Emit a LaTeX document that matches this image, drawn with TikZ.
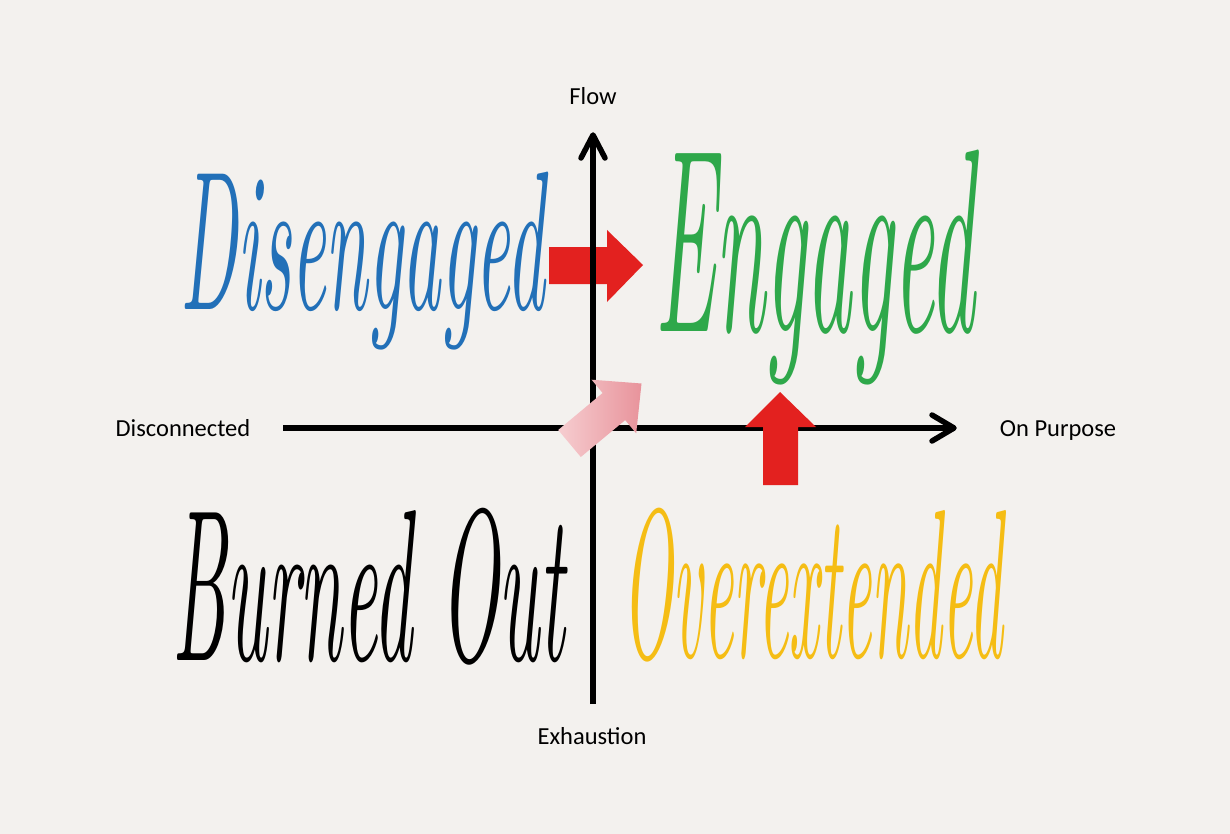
\documentclass[tikz,border=0pt]{standalone}
\usepackage{fontspec}
\setmainfont{Latin Modern Roman}
\newfontfamily\labelfont{Carlito}
\usetikzlibrary{calc}
\definecolor{bgc}{HTML}{F3F1EE}
\definecolor{blueword}{HTML}{2270B8}
\definecolor{greenword}{HTML}{2EA84A}
\definecolor{yellowword}{HTML}{F5BD14}
\definecolor{redarrow}{HTML}{E3211F}
\definecolor{pinklight}{HTML}{F6CDD0}
\definecolor{pinkdark}{HTML}{E8939B}
\tikzset{
  axisline/.style={line width=5.5pt, black},
  axishead/.style={line width=5.5pt, black, line cap=round, line join=round},
  axislabel/.style={font=\labelfont\fontsize{24.5}{28}\selectfont, text=black, inner sep=0pt, text height=16pt, text depth=0pt},
  scriptword/.style={inner sep=0pt, anchor=north west},
  bigarrow/.style={fill=redarrow, draw=none},
}
\newcommand{\scriptbox}[3]{\resizebox*{#1}{#2}{\itshape #3}}
\begin{document}
\begin{tikzpicture}[x=1pt,y=-1pt]
\fill[bgc] (0,0) rectangle (1230,834);
\useasboundingbox (0,0) rectangle (1230,834);

% script words
\node[scriptword, text=blueword] (diseng) at (180,172) {\scriptbox{365pt}{178pt}{Disengaged}};
\node[scriptword, text=greenword] (eng) at (655,150) {\scriptbox{320pt}{235pt}{Engaged}};
\node[scriptword, text=black] (burned) at (172,508) {\scriptbox{393pt}{157pt}{Burned Out}};
\node[scriptword, text=yellowword] (overext) at (622,508) {\scriptbox{381pt}{154pt}{Overextended}};

% red horizontal arrow (behind vertical axis)
\fill[bigarrow] (549,247) -- (607,247) -- (607,230) -- (643,265) -- (607,302) -- (607,284) -- (549,284) -- cycle;

% axes
\coordinate (vbot) at (593,704);
\coordinate (vtop) at (593,135);
\coordinate (hleft) at (283,428);
\coordinate (hright) at (954,428);
\draw[axisline] (vbot) -- ($(vtop)+(0,3)$);
\draw[axishead] ($(vtop)+(-12,23)$) -- (vtop) -- ($(vtop)+(12,23)$);
\draw[axisline] (hleft) -- ($(hright)+(-3,0)$);
\draw[axishead] ($(hright)+(-22,-13)$) -- (hright) -- ($(hright)+(-22,13)$);

% red up arrow
\fill[bigarrow] (763,485) -- (763,427) -- (745,427) -- (780,392) -- (816,427) -- (798,427) -- (798,485) -- cycle;

% pink diagonal arrow
\shade[left color=pinklight, right color=pinkdark] (558.2,430) -- (602.6,393) -- (591.6,379.7) -- (641.5,383.5) -- (636.2,433.3) -- (625.2,420.1) -- (580.8,457) -- cycle;

% axis labels
\node[axislabel] (flow) at (593,97) {Flow};
\node[axislabel] (exh) at (592,736) {Exhaustion};
\node[axislabel] (disc) at (183,428) {Disconnected};
\node[axislabel] (onp) at (1058,428) {On Purpose};
\end{tikzpicture}
\end{document}
